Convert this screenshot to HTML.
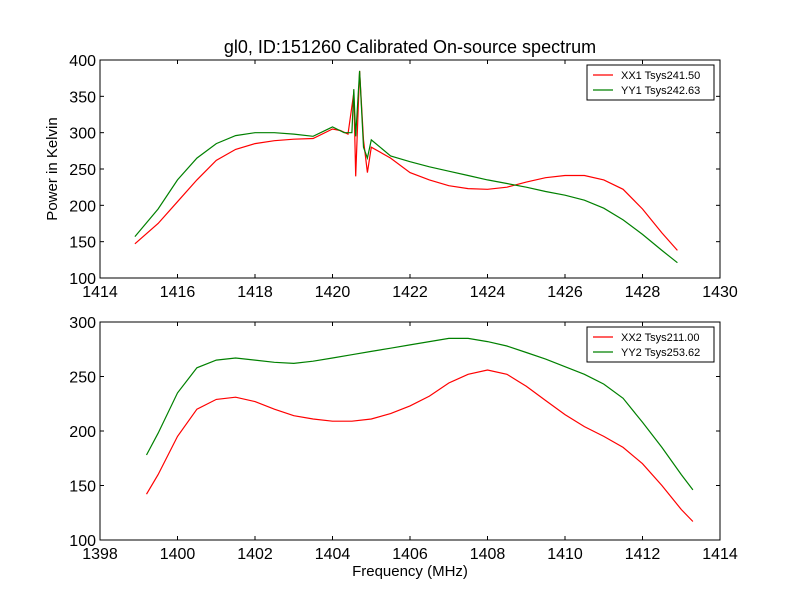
<!DOCTYPE html>
<html><head><meta charset="utf-8"><style>
body{margin:0;background:#fff}
svg text{font-family:"Liberation Sans","DejaVu Sans",sans-serif;fill:#000}
</style></head><body>
<svg id="c" width="800" height="600" xmlns="http://www.w3.org/2000/svg">
<rect width="800" height="600" fill="#fff"/>
<text x="410" y="53" font-size="18" text-anchor="middle">gl0, ID:151260 Calibrated On-source spectrum</text>
<text x="410" y="576" font-size="15" text-anchor="middle">Frequency (MHz)</text>
<text transform="translate(57,169) rotate(-90)" font-size="15" text-anchor="middle">Power in Kelvin</text>
</svg>
<script>
const topX = [1414.9,1415.5,1416,1416.5,1417,1417.5,1418,1418.5,1419,1419.5,1420,1420.2,1420.4,1420.55,1420.6,1420.7,1420.8,1420.9,1421,1421.5,1422,1422.5,1423,1423.5,1424,1424.5,1425,1425.5,1426,1426.5,1427,1427.5,1428,1428.5,1428.9];
const xx1 = [147,175,205,235,262,277,285,289,291,292,305,303,298,355,240,385,290,245,280,265,245,235,227,223,222,225,232,238,241,241,235,222,195,162,138];
const topX2 = [1414.9,1415.5,1416,1416.5,1417,1417.5,1418,1418.5,1419,1419.5,1420,1420.3,1420.5,1420.55,1420.6,1420.7,1420.8,1420.9,1421,1421.5,1422,1422.5,1423,1423.5,1424,1424.5,1425,1425.5,1426,1426.5,1427,1427.5,1428,1428.5,1428.9];
const yy1 = [157,195,235,265,285,296,300,300,298,295,308,300,300,360,295,385,280,265,290,268,260,253,247,241,235,230,225,219,214,207,196,180,160,138,121];
const botX = [1399.2,1399.5,1400,1400.5,1401,1401.5,1402,1402.5,1403,1403.5,1404,1404.5,1405,1405.5,1406,1406.5,1407,1407.5,1408,1408.5,1409,1409.5,1410,1410.5,1411,1411.5,1412,1412.5,1413,1413.3];
const xx2 = [142,160,195,220,229,231,227,220,214,211,209,209,211,216,223,232,244,252,256,252,241,228,215,204,195,185,170,150,128,117];
const yy2 = [178,198,235,258,265,267,265,263,262,264,267,270,273,276,279,282,285,285,282,278,272,266,259,252,243,230,208,185,160,146];
const topXTicks = [1414,1416,1418,1420,1422,1424,1426,1428,1430];
const topYTicks = [100,150,200,250,300,350,400];
const botXTicks = [1398,1400,1402,1404,1406,1408,1410,1412,1414];
const botYTicks = [100,150,200,250,300];
const svg = document.getElementById('c');
const NS = 'http://www.w3.org/2000/svg';
function mk(tag, attrs, parent){const e=document.createElementNS(NS,tag);for(const k in attrs)e.setAttribute(k,attrs[k]);(parent||svg).appendChild(e);return e;}
function panel(name, box, xd, yd, xt, yt, series, legend){
  const sx=v=>box.x+(v-xd[0])/(xd[1]-xd[0])*box.w;
  const sy=v=>box.y+box.h-(v-yd[0])/(yd[1]-yd[0])*box.h;
  const g=mk('g',{});
  
  
  series.forEach(s=>{
    const p=mk('polyline',{points:s.x.map((v,i)=>sx(v).toFixed(1)+','+sy(s.y[i]).toFixed(1)).join(' '),fill:'none',stroke:s.c,'stroke-width':1.2},g);
    
    
  });
  const fr=mk('rect',{x:box.x,y:box.y,width:box.w,height:box.h,fill:'none',stroke:'#000','stroke-width':1},g);
  
  
  xt.forEach(v=>{const X=sx(v);
    mk('line',{x1:X,x2:X,y1:box.y+box.h,y2:box.y+box.h-4,stroke:'#000'},g);
    mk('line',{x1:X,x2:X,y1:box.y,y2:box.y+4,stroke:'#000'},g);
    const t=mk('text',{x:X,y:box.y+box.h+19,'font-size':16,'text-anchor':'middle'},g);t.textContent=v;
    
    
  });
  yt.forEach(v=>{const Y=sy(v);
    mk('line',{x1:box.x,x2:box.x+4,y1:Y,y2:Y,stroke:'#000'},g);
    mk('line',{x1:box.x+box.w,x2:box.x+box.w-4,y1:Y,y2:Y,stroke:'#000'},g);
    const t=mk('text',{x:box.x-4,y:Y+6,'font-size':16,'text-anchor':'end'},g);t.textContent=v;
    
    
  });
  const lg=mk('g',{},g);
  
  
  mk('rect',{x:587,y:box.y+5,width:127,height:35,fill:'#fff',stroke:'#000'},lg);
  legend.forEach((l,i)=>{const Y=box.y+15+i*15;
    mk('line',{x1:593,x2:613,y1:Y,y2:Y,stroke:l.c,'stroke-width':1.2},lg);
    const t=mk('text',{x:621,y:Y+4,'font-size':11},lg);t.textContent=l.t;
    
    
  });
}
panel('top-panel',{x:100,y:60,w:620,h:218},[1414,1430],[100,400],topXTicks,topYTicks,
  [{x:topX,y:xx1,c:'#ff0000',n:'xx1-line'},{x:topX2,y:yy1,c:'#008000',n:'yy1-line'}],
  [{c:'#ff0000',t:'XX1 Tsys241.50'},{c:'#008000',t:'YY1 Tsys242.63'}]);
panel('bottom-panel',{x:100,y:322,w:620,h:218},[1398,1414],[100,300],botXTicks,botYTicks,
  [{x:botX,y:xx2,c:'#ff0000',n:'xx2-line'},{x:botX,y:yy2,c:'#008000',n:'yy2-line'}],
  [{c:'#ff0000',t:'XX2 Tsys211.00'},{c:'#008000',t:'YY2 Tsys253.62'}]);
</script>
</body></html>
